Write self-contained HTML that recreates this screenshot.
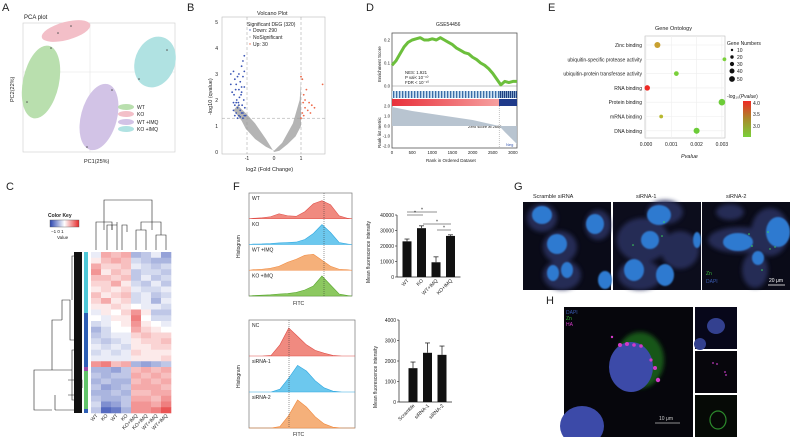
<!DOCTYPE html>
<html><head><meta charset="utf-8"><style>
body{margin:0;background:#fff}
svg{display:block;font-family:"Liberation Sans",sans-serif}
text{fill:#222}
</style></head><body>
<svg id="fig" width="790" height="437" viewBox="0 0 790 437">
<defs>
<filter id="blur2"><feGaussianBlur stdDeviation="2"/></filter>
<filter id="blur1"><feGaussianBlur stdDeviation="0.8"/></filter>
<linearGradient id="redband" x1="0" x2="1"><stop offset="0" stop-color="#e8303a"/><stop offset="1" stop-color="#f6a0a0"/></linearGradient>
<linearGradient id="ckey" x1="0" x2="1"><stop offset="0" stop-color="#2a45b0"/><stop offset="0.5" stop-color="#ffffff"/><stop offset="1" stop-color="#e52a2a"/></linearGradient>
<linearGradient id="cbar" x1="0" y1="0" x2="0" y2="1"><stop offset="0" stop-color="#ee2a25"/><stop offset="0.5" stop-color="#a88a2a"/><stop offset="1" stop-color="#7ad03a"/></linearGradient>
<pattern id="barcode" width="3" height="8" patternUnits="userSpaceOnUse"><rect width="3" height="8" fill="#cfe2f2"/><rect width="1.3" height="8" fill="#3b6ea8"/></pattern>
<pattern id="barcode2" width="2" height="8" patternUnits="userSpaceOnUse"><rect width="2" height="8" fill="#9fc0e0"/><rect width="1.2" height="8" fill="#1e3f80"/></pattern>
</defs>

<g font-size="11">
<text x="2" y="11">A</text>
<text x="187" y="11">B</text>
<text x="366" y="11">D</text>
<text x="548" y="11">E</text>
<text x="6" y="190">C</text>
<text x="233" y="190">F</text>
<text x="514" y="190">G</text>
<text x="546" y="304">H</text>
</g>

<!-- A PCA -->
<g>
<text x="24" y="19" font-size="6">PCA plot</text>
<rect x="23" y="23" width="152" height="129" fill="#fff" stroke="#ccc" stroke-width="0.6"/>
<line x1="90" y1="23" x2="90" y2="152" stroke="#e4e4e4" stroke-width="0.6"/>
<line x1="23" y1="72" x2="175" y2="72" stroke="#e4e4e4" stroke-width="0.6"/>
<ellipse cx="41" cy="82" rx="18" ry="37" transform="rotate(12 41 82)" fill="#b9dfae"/>
<ellipse cx="66" cy="31" rx="25" ry="9" transform="rotate(-15 66 31)" fill="#f3bfc8"/>
<ellipse cx="99" cy="117" rx="18" ry="34" transform="rotate(15 99 117)" fill="#d2c3e6"/>
<ellipse cx="155" cy="62" rx="20" ry="26" transform="rotate(20 155 62)" fill="#b0e2e2"/>
<g fill="#555"><circle cx="51" cy="48" r="0.8"/><circle cx="27" cy="102" r="0.8"/><circle cx="58" cy="33" r="0.8"/><circle cx="71" cy="26" r="0.8"/><circle cx="112" cy="90" r="0.8"/><circle cx="87" cy="147" r="0.8"/><circle cx="167" cy="50" r="0.8"/><circle cx="139" cy="79" r="0.8"/></g>
<g font-size="5">
<ellipse cx="126" cy="107" rx="8" ry="3" fill="#b9dfae"/><text x="137" y="109">WT</text>
<ellipse cx="126" cy="114" rx="8" ry="3" fill="#f3bfc8"/><text x="137" y="116">KO</text>
<ellipse cx="126" cy="122" rx="8" ry="3" fill="#d2c3e6"/><text x="137" y="124">WT +IMQ</text>
<ellipse cx="126" cy="129" rx="8" ry="3" fill="#b0e2e2"/><text x="137" y="131">KO +IMQ</text>
</g>
<text x="84" y="163" font-size="5.5">PC1(25%)</text>
<text transform="translate(14,102) rotate(-90)" font-size="5.5">PC2(22%)</text>
</g>

<!-- B Volcano -->
<g id="volcano">
<text x="257" y="15" font-size="5.5">Volcano Plot</text>
<rect x="222" y="17" width="103" height="137" fill="#fff" stroke="#bbb" stroke-width="0.6"/>
<text x="246" y="171" font-size="5.5">log2 (Fold Change)</text>
<text transform="translate(212,115) rotate(-90)" font-size="5.5">-log10 (qvalue)</text>
<g font-size="5">
<text x="247" y="26">Significant DEG (320)</text>
<circle cx="250" cy="30" r="0.7" fill="#3a55b5"/><text x="253" y="32">Down: 290</text>
<circle cx="250" cy="37" r="0.7" fill="#aaa"/><text x="253" y="39">NoSignificant</text>
<circle cx="250" cy="44" r="0.7" fill="#ee6a4a"/><text x="253" y="46">Up: 30</text>
</g>
</g>

<!-- D GSEA -->
<g id="gsea">
<text x="436" y="26" font-size="5">GSE54456</text>
<rect x="392" y="33" width="125" height="115" fill="#fff" stroke="#555" stroke-width="0.8"/>
<line x1="392" y1="86" x2="517" y2="86" stroke="#888" stroke-width="0.5"/>
<rect x="392" y="91" width="107" height="7" fill="url(#barcode)"/>
<rect x="499" y="91" width="18" height="7" fill="url(#barcode2)"/>
<rect x="392" y="99" width="107" height="7" fill="url(#redband)"/>
<rect x="499" y="99" width="18" height="7" fill="#1f3a8a"/>
<text x="394" y="112" font-size="4" style="fill:#e8303a">Pos</text>
<text x="506" y="146" font-size="4" style="fill:#3a5ab0">Neg</text>
<text x="468" y="128" font-size="4">Zero score at 2660</text>
<text x="405" y="74" font-size="4.3">NES: 1.921</text>
<text x="405" y="79" font-size="4.3">P val&lt; 10⁻¹⁰</text>
<text x="405" y="84" font-size="4.3">FDR &lt; 10⁻¹⁰</text>
<text transform="translate(381,82) rotate(-90)" font-size="4.5">Enrichment Score</text>
<text transform="translate(381,148) rotate(-90)" font-size="4.5">Rank list metric</text>
<text x="426" y="162" font-size="4.5">Rank in Ordered Dataset</text>
</g>

<!-- E GO -->
<g id="go">
<text x="655" y="30" font-size="5.5">Gene Ontology</text>
<rect x="645" y="36" width="80" height="102" fill="#fff" stroke="#bbb" stroke-width="0.6"/>
<text x="681" y="158" font-size="5.5" font-style="italic">Pvalue</text>
<g font-size="5">
<text x="727" y="45">Gene Numbers</text>
<circle cx="732" cy="50" r="1.2" fill="#111"/><text x="737" y="52">10</text>
<circle cx="732" cy="57" r="1.7" fill="#111"/><text x="737" y="59">20</text>
<circle cx="732" cy="64" r="2.1" fill="#111"/><text x="737" y="66">30</text>
<circle cx="732" cy="71" r="2.5" fill="#111"/><text x="737" y="73">40</text>
<circle cx="732" cy="79" r="2.9" fill="#111"/><text x="737" y="81">50</text>
<text x="727" y="98">-log₁₀(<tspan font-style="italic">Pvalue</tspan>)</text>
<rect x="743" y="101" width="8" height="36" fill="url(#cbar)"/>
<text x="753" y="105">4.0</text><text x="753" y="116">3.5</text><text x="753" y="128">3.0</text>
</g>
</g>

<!-- C heatmap -->
<g id="heat">
<text x="48" y="217" font-size="5" font-weight="bold">Color Key</text>
<rect x="50" y="220" width="29" height="7" fill="url(#ckey)" stroke="#555" stroke-width="0.4"/>
<text x="51" y="233" font-size="4.5">−1  0  1</text>
<text x="57" y="239" font-size="4.5">Value</text>
<g stroke="#222" stroke-width="0.6" fill="none">
<path d="M104 230 V200 H152 V230"/><path d="M96 230 V222 H112 V230"/><path d="M96 250 V230"/><path d="M112 230 V225"/>
<path d="M107 250 V225 H117 V250 M117 225 V222"/><path d="M122 250 V225 H127 V232"/>
<path d="M141 230 V222 H161 V230"/><path d="M136 250 V230 H146 V250"/><path d="M156 250 V235 H166 V250"/><path d="M161 235 V230"/>
</g>
<g stroke="#222" stroke-width="0.6" fill="none">
<path d="M82 256 H72 V300 M82 340 H70 V300 H62 V320 M62 320 H52 V370 H34 V410 H52 M52 370 H72 V400 H82 M72 370 V350 H82"/>
<path d="M55 410 H82 M55 395 V410 M68 395 H82 M68 380 H82 V388"/>
</g>
<rect x="74" y="252" width="8" height="161" fill="#111"/>
<rect x="84" y="252" width="4" height="61" fill="#4ec8d8"/>
<rect x="84" y="313" width="4" height="54" fill="#2e5fb5"/>
<rect x="84" y="367" width="4" height="4" fill="#9a4aa8"/>
<rect x="84" y="371" width="4" height="38" fill="#62c46a"/>
<rect x="84" y="409" width="4" height="4" fill="#2e5fb5"/>
</g>

<!-- F flow -->
<g id="flow">
<rect x="249" y="193" width="103" height="103" fill="#fff" stroke="#777" stroke-width="0.7"/>
<rect x="249" y="320" width="106" height="108" fill="#fff" stroke="#777" stroke-width="0.7"/>
<text x="293" y="305" font-size="5">FITC</text>
<text x="293" y="436" font-size="5">FITC</text>
<text transform="translate(240,258) rotate(-90)" font-size="5">Histogram</text>
<text transform="translate(240,388) rotate(-90)" font-size="5">Histogram</text>
<text transform="translate(370,283) rotate(-90)" font-size="5">Mean fluorescence intensity</text>
<text transform="translate(377,408) rotate(-90)" font-size="5">Mean fluorescence intensity</text>
</g>

<!-- G microscopy -->
<g>
<text x="533" y="198" font-size="5.5">Scramble siRNA</text>
<text x="636" y="198" font-size="5.5">siRNA-1</text>
<text x="726" y="198" font-size="5.5">siRNA-2</text>
<rect x="523" y="202" width="88" height="88" fill="#0a0b18"/>
<rect x="613" y="202" width="88" height="88" fill="#0c0d1c"/>
<rect x="702" y="202" width="88" height="88" fill="#0a0b18"/>
<g filter="url(#blur2)" fill="#2c3060" opacity="0.85">
<ellipse cx="542" cy="218" rx="15" ry="14"/><ellipse cx="598" cy="225" rx="13" ry="15"/><ellipse cx="560" cy="247" rx="17" ry="16"/><ellipse cx="562" cy="275" rx="19" ry="15"/>
<ellipse cx="643" cy="240" rx="26" ry="22"/><ellipse cx="680" cy="250" rx="19" ry="19"/><ellipse cx="640" cy="275" rx="22" ry="15"/><ellipse cx="665" cy="212" rx="18" ry="12"/>
<ellipse cx="740" cy="240" rx="32" ry="13"/><ellipse cx="770" cy="232" rx="19" ry="24"/><ellipse cx="755" cy="270" rx="13" ry="18"/><ellipse cx="730" cy="212" rx="14" ry="8"/>
</g>
<g fill="#2f7ad0" filter="url(#blur1)">
<ellipse cx="542" cy="215" rx="10" ry="9"/><ellipse cx="595" cy="224" rx="9" ry="10"/><ellipse cx="557" cy="244" rx="10" ry="10"/><ellipse cx="553" cy="273" rx="6" ry="8"/><ellipse cx="567" cy="270" rx="6" ry="8"/><ellipse cx="605" cy="280" rx="7" ry="9"/>
<ellipse cx="659" cy="215" rx="12" ry="10"/><ellipse cx="650" cy="240" rx="9" ry="9"/><ellipse cx="634" cy="270" rx="10" ry="11"/><ellipse cx="665" cy="275" rx="9" ry="11"/><ellipse cx="697" cy="240" rx="4" ry="8"/>
<ellipse cx="738" cy="242" rx="15" ry="9"/><ellipse cx="778" cy="232" rx="12" ry="15"/><ellipse cx="758" cy="258" rx="6" ry="7"/>
</g>
<g fill="#3ed85a"><circle cx="664" cy="222" r="0.8"/><circle cx="662" cy="236" r="0.8"/><circle cx="633" cy="245" r="0.8"/><circle cx="749" cy="234" r="0.8"/><circle cx="768" cy="232" r="0.8"/><circle cx="752" cy="246" r="0.8"/><circle cx="770" cy="249" r="0.7"/><circle cx="762" cy="270" r="0.8"/><circle cx="775" cy="247" r="0.7"/></g>
<text x="706" y="275" font-size="5" style="fill:#3cb83c">Zn</text>
<text x="706" y="283" font-size="5" style="fill:#3a5ab0">DAPI</text>
<line x1="768" y1="285" x2="785" y2="285" stroke="#fff" stroke-width="0.8"/>
<text x="769" y="282" font-size="5" style="fill:#fff">20 μm</text>
</g>

<!-- H -->
<g>
<rect x="564" y="307" width="129" height="130" fill="#06060c"/>
<rect x="695" y="307" width="42" height="42" fill="#07071a"/>
<rect x="695" y="351" width="42" height="42" fill="#07060c"/>
<rect x="695" y="395" width="42" height="42" fill="#060a06"/>
<ellipse cx="640" cy="360" rx="24" ry="28" fill="#1f6a1f" filter="url(#blur2)" opacity="0.8"/>
<ellipse cx="631" cy="367" rx="22" ry="25" fill="#3c4aa8"/>
<ellipse cx="582" cy="426" rx="22" ry="20" fill="#3c4aa8"/>
<g fill="#d23ac8"><circle cx="620" cy="345" r="2"/><circle cx="627" cy="344" r="2"/><circle cx="634" cy="345" r="1.8"/><circle cx="641" cy="346" r="1.8"/><circle cx="651" cy="360" r="1.6"/><circle cx="655" cy="368" r="2"/><circle cx="658" cy="380" r="2.2"/><circle cx="612" cy="337" r="1.2"/></g>
<ellipse cx="716" cy="326" rx="9" ry="8" fill="#33408f"/><ellipse cx="700" cy="344" rx="6" ry="6" fill="#33408f"/>
<g fill="#c03ac0"><circle cx="713" cy="363" r="0.9"/><circle cx="717" cy="364" r="0.9"/><circle cx="725" cy="372" r="0.9"/><circle cx="726" cy="375" r="0.9"/></g>
<ellipse cx="718" cy="420" rx="8" ry="9" fill="none" stroke="#2c8a2c" stroke-width="1.2"/>
<text x="566" y="314" font-size="5" style="fill:#3a5ab0">DAPI</text>
<text x="566" y="320" font-size="5" style="fill:#3cb83c">Zn</text>
<text x="566" y="326" font-size="5" style="fill:#d23ac8">HA</text>
<line x1="655" y1="423" x2="680" y2="423" stroke="#bbb" stroke-width="0.8"/>
<text x="659" y="420" font-size="5" style="fill:#ccc">10 μm</text>
</g>
</svg>

<script>
var NS = "http://www.w3.org/2000/svg";
var svg = document.getElementById("fig");
function mk(tag, attrs, parent) {
  var e = document.createElementNS(NS, tag);
  for (var k in attrs) e.setAttribute(k, attrs[k]);
  (parent || svg).appendChild(e);
  return e;
}
function txt(x, y, s, size, parent, anchor) {
  var t = mk("text", {x: x, y: y, "font-size": size, "text-anchor": anchor || "start"}, parent);
  t.textContent = s;
  return t;
}

/* ---------- B volcano data ---------- */
var volcanoDownX = [-1.6,-1.5,-1.45,-1.4,-1.35,-1.3,-1.25,-1.2,-1.15,-1.1,-1.55,-1.48,-1.42,-1.38,-1.32,-1.28,-1.22,-1.18,-1.12,-1.08,-1.5,-1.4,-1.3,-1.2,-1.1,-1.45,-1.35,-1.25,-1.15,-1.6,-1.3,-1.2,-1.1,-1.5,-1.4,-1.05,-1.25,-1.15,-1.35,-1.45,-1.1,-1.15,-1.2,-1.3];
var volcanoDownY = [3.0,3.1,2.8,2.6,2.9,3.0,2.7,2.5,2.9,3.1,2.3,2.2,2.4,2.0,1.9,2.1,2.2,1.8,2.0,1.7,1.6,1.5,1.4,1.5,1.4,1.8,1.7,1.6,1.5,2.6,2.4,2.3,2.5,1.9,1.9,1.4,1.35,1.3,1.3,1.4,3.7,3.5,3.3,1.8];
var volcanoUpX = [1.0,1.05,1.1,1.15,1.2,1.3,1.4,1.5,1.8,1.05,1.1,1.25,1.35,1.0,1.08,1.15];
var volcanoUpY = [2.9,2.8,2.2,2.0,2.4,1.9,1.8,1.7,2.6,1.5,1.4,1.6,1.5,1.3,1.9,1.7];
var volcanoXTicks = [-1, 0, 1];
var volcanoYTicks = [0, 1, 2, 3, 4, 5];
function vx(v) { return 274 + v * 27; }
function vy(v) { return 152 - v * 26; }
var vg = document.getElementById("volcano");
var cloudX = [0,-0.3,-0.7,-1.05,-1.35,-1.5,-1.2,-1.05,-0.7,-0.3,0,0.3,0.7,0.95,1.0,1.0,0.8,0.5,0.2];
var cloudY = [0,0.5,1.1,1.5,1.8,1.6,1.2,0.9,0.5,0.2,0.05,0.35,1.1,2.0,2.7,1.0,0.6,0.3,0.05];
var cp = "";
cloudX.forEach(function (x, i) { cp += (i ? " L" : "M") + vx(x) + " " + vy(cloudY[i]); });
var gray = mk("path", {d: cp + " Z", fill: "#b4b4b4"}, vg);


mk("line", {x1: vx(-1), y1: 17, x2: vx(-1), y2: 154, stroke: "#999", "stroke-width": 0.5, "stroke-dasharray": "3,2"}, vg);
mk("line", {x1: vx(1), y1: 17, x2: vx(1), y2: 154, stroke: "#999", "stroke-width": 0.5, "stroke-dasharray": "3,2"}, vg);
mk("line", {x1: 222, y1: vy(1.3), x2: 325, y2: vy(1.3), stroke: "#999", "stroke-width": 0.5, "stroke-dasharray": "3,2"}, vg);
volcanoDownX.forEach(function (x, i) {
  var c = mk("circle", {cx: vx(x), cy: vy(volcanoDownY[i]), r: 0.9, fill: "#3a55b5"}, vg);
  
  
});
volcanoUpX.forEach(function (x, i) {
  var c = mk("circle", {cx: vx(x), cy: vy(volcanoUpY[i]), r: 0.9, fill: "#ee6a4a"}, vg);
  
  
});
volcanoXTicks.forEach(function (t) { txt(vx(t), 160, String(t), 5, vg, "middle"); });
volcanoYTicks.forEach(function (t) { txt(218, vy(t) + 2, String(t), 5, vg, "end"); });

/* ---------- D GSEA data ---------- */
var gseaRanks = [0,100,200,300,400,500,600,700,800,900,1000,1100,1200,1300,1400,1500,1600,1700,1800,1900,2000,2100,2200,2300,2400,2500,2600,2700,2800,2900,3000,3100];
var gseaES = [0.09,0.11,0.14,0.17,0.19,0.2,0.205,0.21,0.2,0.2,0.205,0.2,0.21,0.2,0.19,0.18,0.165,0.155,0.145,0.14,0.125,0.115,0.1,0.09,0.075,0.055,0.03,0.005,0.02,0.015,0.02,0.02];
var metricRanks = [0, 500, 1000, 1500, 2000, 2660, 2800, 3000, 3100];
var metricValues = [1.9, 1.5, 1.2, 0.9, 0.6, 0, -0.6, -1.4, -1.8];
var gseaXTicks = [0, 500, 1000, 1500, 2000, 2500, 3000];
var esTicks = [0.0, 0.1, 0.2];
var metricTicks = [2.0, 1.0, 0.0, -1.0, -2.0];
function gx(r) { return 392 + r * 0.0403; }
function gy(v) { return 86 - v * 230; }
function my(v) { return 126 - v * 10; }
var gg = document.getElementById("gsea");
var ap = "M" + gx(0) + " " + my(0);
metricRanks.forEach(function (r, i) { ap += " L" + gx(r) + " " + my(metricValues[i]); });
ap += " L" + gx(3100) + " " + my(0) + " Z";
var area = mk("path", {d: ap, fill: "#b8c4d0"}, gg);


mk("line", {x1: gx(2660), y1: 106, x2: gx(2660), y2: 148, stroke: "#888", "stroke-width": 0.5, "stroke-dasharray": "1,1"}, gg);
var ep = "";
gseaRanks.forEach(function (r, i) { ep += (i ? " L" : "M") + gx(r) + " " + gy(gseaES[i]); });
var es = mk("path", {d: ep, fill: "none", stroke: "#6cbf3c", "stroke-width": 3, "stroke-linejoin": "round"}, gg);


gseaXTicks.forEach(function (t) { txt(gx(t), 154, String(t), 4.3, gg, "middle"); });
esTicks.forEach(function (t) { txt(390, gy(t) + 1.5, t.toFixed(1), 4.3, gg, "end"); });
metricTicks.forEach(function (t) { txt(390, my(t) + 1.5, t.toFixed(1), 4.3, gg, "end"); });

/* ---------- E GO data ---------- */
var goTerms = ["Zinc binding","ubiquitin-specific protease activity","ubiquitin-protein transferase activity","RNA binding","Protein binding","mRNA binding","DNA binding"];
var goPvalues = [0.00045, 0.0031, 0.0012, 0.00005, 0.003, 0.0006, 0.002];
var goCounts = [40, 10, 20, 30, 50, 10, 40];
var goColors = ["#c8a030","#7ad03a","#7ad03a","#ee2a25","#6ccc38","#b8b830","#6ccc38"];
var goXTicks = [0, 0.001, 0.002, 0.003];
function ex(p) { return 646 + p * 25300; }
function ey(i) { return 45 + i * 14.3; }
var eg = document.getElementById("go");
goXTicks.forEach(function (t) {
  mk("line", {x1: ex(t), y1: 36, x2: ex(t), y2: 138, stroke: "#eee", "stroke-width": 0.6}, eg);
  txt(ex(t), 146, t.toFixed(3), 5, eg, "middle");
});
goTerms.forEach(function (t, i) {
  mk("line", {x1: 645, y1: ey(i), x2: 725, y2: ey(i), stroke: "#eee", "stroke-width": 0.6}, eg);
  txt(642, ey(i) + 2, t, 5, eg, "end");
  var c = mk("circle", {cx: ex(goPvalues[i]), cy: ey(i), r: 0.8 + Math.sqrt(goCounts[i]) * 0.35, fill: goColors[i]}, eg);
  
  
});

/* ---------- C heatmap data ---------- */
var heatColumns = ["WT","KO","WT","KO","KO+IMQ","KO+IMQ","WT+IMQ","WT+IMQ"];
var heatRows = [
[-0.1,0.4,0.3,0.4,-0.4,-0.3,-0.1,-0.5],
[0.1,0.3,0.4,0.3,-0.2,-0.3,-0.4,-0.4],
[0.4,0.2,0.2,0.3,-0.1,-0.2,-0.3,-0.2],
[0.5,0.1,0.3,0.2,-0.3,-0.2,-0.2,-0.3],
[0.3,0.3,0.2,0.3,-0.3,-0.1,-0.3,-0.2],
[0.2,0.2,0.4,0.1,-0.2,-0.3,-0.1,-0.3],
[0.1,0.2,0.1,0.2,-0.1,-0.2,-0.2,-0.1],
[0.3,0.1,0.2,0.3,-0.2,-0.1,-0.3,-0.2],
[0.2,0.4,0.1,0.2,-0.2,-0.1,-0.4,-0.1],
[0.1,0.1,0.2,0.1,0.0,-0.1,-0.1,-0.2],
[-0.1,0.1,0.0,0.2,0.5,0.1,-0.3,-0.3],
[0.0,-0.1,0.1,0.1,0.6,0.0,-0.2,-0.2],
[-0.2,-0.1,0.0,0.1,0.5,0.1,0.0,-0.1],
[-0.4,-0.2,0.0,0.0,0.4,0.2,0.1,0.0],
[-0.3,-0.2,-0.1,-0.1,0.2,0.3,0.2,0.2],
[-0.2,-0.3,-0.2,-0.1,0.1,0.2,0.2,0.3],
[-0.1,-0.2,-0.1,-0.2,0.1,0.1,0.2,0.2],
[-0.2,-0.1,-0.2,-0.1,0.2,0.1,0.1,0.1],
[-0.1,-0.1,-0.1,-0.1,0.1,0.1,0.1,0.2],
[0.5,0.6,0.3,0.4,-0.4,-0.5,-0.4,-0.3],
[-0.4,-0.4,-0.5,-0.3,0.3,0.4,0.3,0.4],
[-0.3,-0.4,-0.3,-0.3,0.4,0.3,0.4,0.3],
[-0.4,-0.3,-0.4,-0.4,0.3,0.4,0.3,0.4],
[-0.3,-0.5,-0.4,-0.3,0.4,0.4,0.4,0.3],
[-0.4,-0.4,-0.3,-0.4,0.3,0.3,0.4,0.4],
[-0.3,-0.4,-0.4,-0.3,0.4,0.4,0.3,0.5],
[-0.2,-0.6,-0.5,-0.3,0.5,0.5,0.4,0.6],
[-0.3,-0.8,-0.7,-0.4,0.5,0.5,0.6,0.8]
];
function heatColor(v) {
  var r, g, b;
  if (v < 0) { var a = -v; r = 255 - a * 213; g = 255 - a * 186; b = 255 - a * 79; }
  else { r = 255 - v * 26; g = 255 - v * 213; b = 255 - v * 213; }
  return "rgb(" + Math.round(r) + "," + Math.round(g) + "," + Math.round(b) + ")";
}
var hg = document.getElementById("heat");
var cw = 80 / heatColumns.length, rh = 161 / heatRows.length;
heatRows.forEach(function (row, i) {
  row.forEach(function (v, j) {
    var r = mk("rect", {x: 91 + j * cw, y: 252 + i * rh, width: cw + 0.3, height: rh + 0.3, fill: heatColor(v)}, hg);
    
    
  });
});
heatColumns.forEach(function (c, j) {
  var t = mk("text", {x: 0, y: 0, "font-size": 5, "text-anchor": "end", transform: "translate(" + (94 + j * cw + 4) + ",416) rotate(-45)"}, hg);
  t.textContent = c;
});

/* ---------- F histograms ---------- */
var histTopLabels = ["WT","KO","WT +IMQ","KO +IMQ"];
var histTopColors = ["#f08a80","#6cc8ee","#f5b07a","#8cc860"];
var histTopStroke = ["#e0504a","#30a8e0","#f08a40","#5aa830"];
var histTopData = [
[0.02,0.05,0.1,0.25,0.15,0.12,0.35,0.75,0.9,0.7,0.15,0.02],
[0.02,0.03,0.05,0.08,0.1,0.12,0.25,0.55,1.0,0.6,0.1,0.02],
[0.03,0.05,0.1,0.2,0.4,0.55,0.75,0.8,0.5,0.2,0.05,0.02],
[0.02,0.04,0.06,0.1,0.12,0.18,0.3,0.5,1.0,0.55,0.1,0.02]
];
var histBotLabels = ["NC","siRNA-1","siRNA-2"];
var histBotColors = ["#f08a80","#6cc8ee","#f5b07a"];
var histBotStroke = ["#e0504a","#30a8e0","#f08a40"];
var histBotData = [
[0.0,0.0,0.02,0.4,1.0,0.7,0.4,0.2,0.1,0.02,0.0,0.0],
[0.0,0.0,0.0,0.1,0.5,0.95,0.75,0.4,0.15,0.03,0.0,0.0],
[0.0,0.0,0.0,0.05,0.45,1.0,0.75,0.4,0.15,0.03,0.0,0.0]
];
var fg = document.getElementById("flow");
function drawHists(labels, data, fills, strokes, x0, w, y0, rowH, peakH) {
  data.forEach(function (d, i) {
    var base = y0 + (i + 1) * rowH;
    var n = d.length, p = "M" + x0 + " " + base;
    d.forEach(function (v, k) { p += " L" + (x0 + (k + 0.5) * w / n) + " " + (base - v * peakH); });
    p += " L" + (x0 + w) + " " + base + " Z";
    var h = mk("path", {d: p, fill: fills[i], stroke: strokes[i], "stroke-width": 0.6}, fg);
    
    
    txt(x0 + 3, y0 + i * rowH + 7, labels[i], 5, fg);
  });
}
drawHists(histTopLabels, histTopData, histTopColors, histTopStroke, 249, 103, 193, 25.75, 20);
drawHists(histBotLabels, histBotData, histBotColors, histBotStroke, 249, 106, 320, 36, 28);
mk("line", {x1: 324, y1: 193, x2: 324, y2: 296, stroke: "#333", "stroke-width": 0.5, "stroke-dasharray": "1,1"}, fg);
mk("line", {x1: 289, y1: 320, x2: 289, y2: 428, stroke: "#333", "stroke-width": 0.5, "stroke-dasharray": "1,1"}, fg);

/* ---------- F bar charts ---------- */
var barTopCats = ["WT","KO","WT+IMQ","KO+IMQ"];
var barTopVals = [23000, 31500, 9500, 26500];
var barTopErr = [1500, 1500, 3500, 700];
var barTopTicks = [0, 10000, 20000, 30000, 40000];
var barBotCats = ["Scramble","siRNA-1","siRNA-2"];
var barBotVals = [1650, 2400, 2300];
var barBotErr = [300, 480, 430];
var barBotTicks = [0, 1000, 2000, 3000, 4000];
function drawBars(cats, vals, errs, ticks, ax, y0, ytop, maxV, x1, step, bw) {
  var sc = function (v) { return y0 - v / maxV * (y0 - ytop); };
  mk("line", {x1: ax, y1: ytop, x2: ax, y2: y0, stroke: "#222", "stroke-width": 0.7}, fg);
  mk("line", {x1: ax, y1: y0, x2: x1 + step * (cats.length - 1) + 10, y2: y0, stroke: "#222", "stroke-width": 0.7}, fg);
  ticks.forEach(function (t) {
    mk("line", {x1: ax - 2, y1: sc(t), x2: ax, y2: sc(t), stroke: "#222", "stroke-width": 0.6}, fg);
    txt(ax - 3, sc(t) + 1.8, String(t), 5, fg, "end");
  });
  cats.forEach(function (c, i) {
    var cx = x1 + i * step;
    var b = mk("rect", {x: cx - bw / 2, y: sc(vals[i]), width: bw, height: y0 - sc(vals[i]), fill: "#111"}, fg);
    
    
    mk("line", {x1: cx, y1: sc(vals[i]), x2: cx, y2: sc(vals[i] + errs[i]), stroke: "#111", "stroke-width": 0.7}, fg);
    mk("line", {x1: cx - 2.5, y1: sc(vals[i] + errs[i]), x2: cx + 2.5, y2: sc(vals[i] + errs[i]), stroke: "#111", "stroke-width": 0.7}, fg);
    var t = mk("text", {x: 0, y: 0, "font-size": 5, "text-anchor": "end", transform: "translate(" + (cx + 2) + "," + (y0 + 4) + ") rotate(-45)"}, fg);
    t.textContent = c;
  });
  return sc;
}
drawBars(barTopCats, barTopVals, barTopErr, barTopTicks, 397, 277, 215, 40000, 407, 14.5, 9);
drawBars(barBotCats, barBotVals, barBotErr, barBotTicks, 399, 402, 320, 4000, 413, 14.5, 9);
[[407, 423, 215], [407, 437, 212], [423, 451, 224], [437, 451, 230]].forEach(function (s) {
  mk("line", {x1: s[0], y1: s[2], x2: s[1], y2: s[2], stroke: "#222", "stroke-width": 0.5}, fg);
  txt((s[0] + s[1]) / 2, s[2] - 0.5, "*", 5, fg, "middle");
});
</script>
</body></html>
